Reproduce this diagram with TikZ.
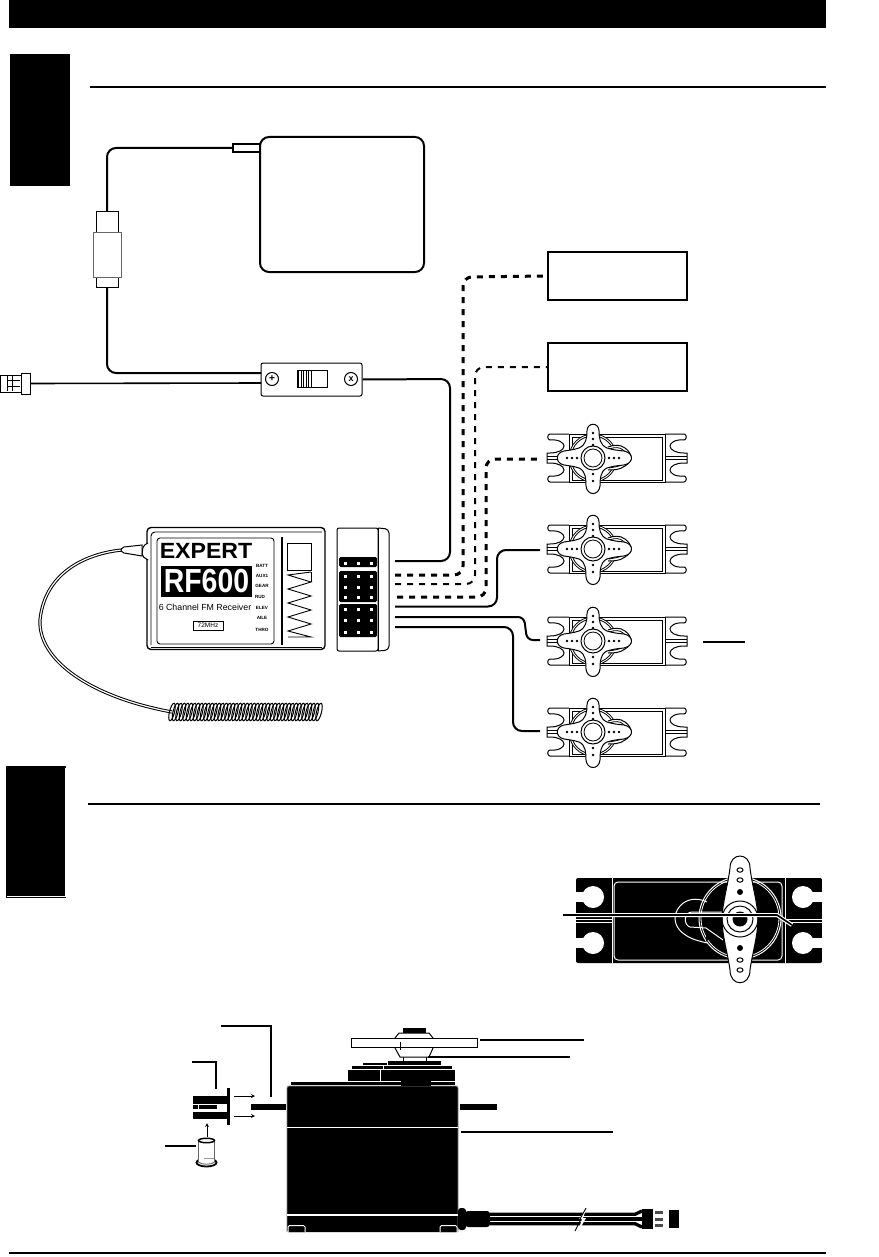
\documentclass[tikz,border=0pt]{standalone}
\usepackage{tikz}
\usepackage{fontspec}
\setsansfont{Liberation Sans}
\usetikzlibrary{arrows}
\tikzstyle{blackbar} = [rectangle, minimum width=1, minimum height=1, inner sep=0, fill=black]
\tikzstyle{rule} = [line width=2]
\tikzstyle{outlinebox} = [rectangle, inner sep=0, draw=black, line width=1.4, fill=white]
\tikzstyle{batterybox} = [rectangle, rounded corners=9, inner sep=0, draw=black, line width=2, fill=white]
\tikzstyle{wire} = [line width=2, rounded corners=9]
\tikzstyle{wiredash} = [line width=3, rounded corners=9, dash pattern=on 6pt off 6pt]
\tikzstyle{wirethin} = [line width=2, rounded corners=9, dash pattern=on 6pt off 6pt]
\tikzstyle{leader} = [line width=1.5]
\tikzstyle{arrow} = [thick,->,>=stealth]
\tikzstyle{recvlabel} = [inner sep=0, font=\sffamily\bfseries\fontsize{4.6}{5}\selectfont]
\tikzset{servosmall/.pic={
	\tikzset{x=1pt,y=-1pt}
	% ears
	\foreach \s/\o in {1/0,-1/48} {
		\begin{scope}[shift={(\o,0)},xscale=\s]
			\draw [line width=1, fill=white] (-24,-24) -- (-43,-24) .. controls (-46,-24) and (-46,-18) .. (-43,-18) .. controls (-34,-19) and (-29,-15) .. (-29,-12) .. controls (-29,-8) and (-35,-5) .. (-43,-5) -- (-46,-5) -- (-46,5) -- (-43,5) .. controls (-35,5) and (-29,8) .. (-29,12) .. controls (-29,15) and (-34,19) .. (-43,18) .. controls (-46,18) and (-46,24) .. (-43,24) -- (-24,24);
			\draw [line width=0.8] (-46,-1.5) -- (-24,-1.5) (-46,1.5) -- (-24,1.5);
		\end{scope}
	}
	% body
	\draw [line width=1, fill=white] (-24,-24) rectangle (72,24);
	\draw [line width=1] (-21,-21) rectangle (69,22);
	% gear and bump
	\draw [line width=0.8, fill=white] (0,0) circle (24);
	\draw [line width=0.8] (0,0) circle (22);
	\draw [line width=1, fill=white] (15,-11) .. controls (20,-13) and (27,-14) .. (32,-10) .. controls (40,-4) and (40,3) .. (32,8) .. controls (27,12) and (20,12) .. (15,12);
	\draw [line width=0.8] (16,-9) .. controls (22,-11) and (27,-11) .. (30,-8) .. controls (37,-3) and (36,3) .. (30,6) .. controls (26,9) and (20,9) .. (16,10);
	% horn
	\draw [line width=1, fill=white] (-6,-27) .. controls (-6,-36) and (6,-36) .. (6,-27) .. controls (6,-20) and (7,-13) .. (14,-10) .. controls (20,-8) and (26,-7.5) .. (31,-7) .. controls (41,-5) and (41,5) .. (31,7) .. controls (26,7.5) and (20,8) .. (14,10) .. controls (7,13) and (7,22) .. (7,28) .. controls (6,38) and (-6,38) .. (-7,28) .. controls (-7,22) and (-7,13) .. (-14,10) .. controls (-20,8) and (-26,7.5) .. (-29,7) .. controls (-38,5) and (-38,-5) .. (-29,-7) .. controls (-26,-7.5) and (-20,-8) .. (-14,-10) .. controls (-7,-13) and (-6,-20) .. (-6,-27) -- cycle;
	\draw [line width=1, fill=white] (0,0) circle (12);
	\draw [line width=0.8] (0,0) circle (9);
	\foreach \a/\b in {0/-25,0/-19,0/-13,0/16,0/23,-26/0,-21/0,-16/0,16/0,21/0,26/0}
		\fill [black] (\a,\b) circle (1.4);
}}
\begin{document}
\begin{tikzpicture}[x=1pt,y=-1pt]
	\useasboundingbox (0,0) rectangle (878,1257);
	\fill [white] (0,0) rectangle (878,1257);

	% page furniture
	\node (header) [blackbar, minimum width=817, minimum height=28] at (417.5,14) {};
	\node (tabA) [blackbar, minimum width=60, minimum height=132] at (40,120) {};
	\coordinate (ruleAl) at (90,87);
	\coordinate (ruleAr) at (826,87);
	\draw [rule] (ruleAl) -- (ruleAr);
	\node (tabB) [blackbar, minimum width=60.5, minimum height=132] at (36.2,832) {};
	\draw [white, line width=1] (65,768) -- (65,896.5) -- (7,896.5);
	\coordinate (ruleBl) at (88,804);
	\coordinate (ruleBr) at (820,804);
	\draw [rule] (ruleBl) -- (ruleBr);
	\coordinate (ruleCl) at (9,1253);
	\coordinate (ruleCr) at (826,1253);
	\draw [rule] (ruleCl) -- (ruleCr);

	% battery, charge lead and switch
	\node (battery) [batterybox, minimum width=164, minimum height=135] at (342,204.5) {};
	\node (batplug) [outlinebox, minimum width=27, minimum height=8] at (246.5,148) {};
	\node (lead) [outlinebox, line width=1, minimum width=22, minimum height=75] at (107,249.5) {};
	\node (sleeve) [rectangle, inner sep=0, draw=black!60, line width=1, fill=white, minimum width=28, minimum height=44] at (107,255) {};
	\node (switch) [rectangle, rounded corners=2, inner sep=0, draw=black, line width=1, fill=white, minimum width=101, minimum height=33] at (311.5,379.5) {};
	\node (slider) [outlinebox, line width=1, minimum width=30, minimum height=17] at (312,378.5) {};
	\foreach \x in {298.5,301,303.5,306,308.5,311}
		\draw [line width=0.9] (\x,370) -- (\x,387);
	\node (screwA) [circle, inner sep=0, minimum size=13, draw=black, line width=1] at (272,379) {\sffamily\bfseries\fontsize{10}{10}\selectfont +};
	\node (screwB) [circle, inner sep=0, minimum size=13, draw=black, line width=1] at (351,379) {\sffamily\bfseries\fontsize{9}{9}\selectfont x};
	\node (chgcollar) [outlinebox, line width=1, minimum width=9, minimum height=21] at (25.5,383.5) {};
	\node (chgplug) [outlinebox, line width=1, minimum width=21, minimum height=17] at (10.5,383.5) {};
	\draw [line width=0.9] (7,376) -- (7,391) (7,380) -- (20,380) (7,386) -- (20,386) (12,376) -- (12,391);

	\coordinate (leadbend) at (107,148);
	\coordinate (switchbend) at (107,373);
	\coordinate (switchin) at (261,373);
	\coordinate (chgin) at (261,383);
	\draw [wire] (batplug.west) -- (leadbend) -- (lead.north);
	\draw [wire] (lead.south) -- (switchbend) -- (switchin);
	\draw [line width=1.6] (chgcollar.east) -- (chgin);

	% channel boxes
	\node (boxA) [outlinebox, minimum width=139, minimum height=48] at (617.5,276) {};
	\node (boxB) [outlinebox, minimum width=139, minimum height=48, below of=boxA, node distance=91pt] {};

	% servos
	\pic at (593,458) {servosmall};
	\pic at (593,549) {servosmall};
	\pic at (593,641) {servosmall};
	\pic at (593,732) {servosmall};
	\coordinate (servoA) at (541,459);
	\coordinate (servoB) at (540,550);
	\coordinate (servoC) at (540,640);
	\coordinate (servoD) at (540,731);
	\coordinate (servoCl) at (703,642);
	\coordinate (servoCr) at (745,642);
	\draw [rule] (servoCl) -- (servoCr);

	% receiver
	\node (recv) [rectangle, rounded corners=4, inner sep=0, draw=black, line width=1.4, fill=white, minimum width=178, minimum height=122] at (236,588.5) {};
	\node (panel) [rectangle, rounded corners=3, inner sep=0, draw=black, line width=0.9, minimum width=117, minimum height=106] at (215.5,591) {};
	\draw [line width=0.9, rounded corners=4] (151,645) -- (151,532) -- (322,532);
	\draw [line width=0.9, rounded corners=4] (151,647) -- (322,647);
	\node (expert) [inner sep=0, font=\sffamily\bfseries\fontsize{22}{22}\selectfont] at (206,551) {\scalebox{1.05}[1]{EXPERT}};
	\node (rfname) [blackbar, minimum width=91, minimum height=31, text=white, font=\sffamily\bfseries\fontsize{29}{29}\selectfont] at (206.5,581.5) {\scalebox{0.98}[1.15]{RF600}};
	\node (recvtxt) [inner sep=0, font=\sffamily\fontsize{8.8}{9}\selectfont] at (205,607) {6 Channel FM Receiver};
	\node (mhz) [rectangle, inner sep=0, draw=black, line width=0.9, minimum width=30, minimum height=9, font=\sffamily\fontsize{6.5}{7}\selectfont] at (208,625.5) {72MHz};
	\node (batt) [recvlabel] at (262,566) {BATT};
	\node (auxone) [recvlabel] at (262,575.5) {AUX1};
	\node (gear) [recvlabel] at (262,586) {GEAR};
	\node (rudd) [recvlabel] at (260,597) {RUD};
	\node (elev) [recvlabel] at (262,608) {ELEV};
	\node (aile) [recvlabel] at (262,618) {AILE};
	\node (thro) [recvlabel] at (262,630) {THRO};
	\node (vbar) [blackbar, minimum width=2.5, minimum height=108] at (282,591) {};
	\node (window) [outlinebox, line width=0.9, minimum width=24, minimum height=27] at (299,556.5) {};
	\coordinate (zigstart) at (311,572);
	\draw [line width=0.9] (zigstart) -- (288,575) -- (311,582) -- (288,589) -- (311,596) -- (288,603) -- (311,610) -- (288,617) -- (311,624) -- (288,631) -- (311,637) -- (288,637);
	\draw [line width=0.9] (311,572) -- (311,582);

	% servo lead block
	\node (block) [rectangle, rounded corners=2, inner sep=0, draw=black, line width=1, fill=white, minimum width=41, minimum height=123] at (357.5,589.5) {};
	\draw [line width=1, rounded corners=4] (378,528) -- (389,529) -- (389,650) -- (378,651);
	\draw [line width=1] (378,528) -- (378,651);
	\fill [black, rounded corners=1.5] (339,557) rectangle (377,567);
	\fill [black, rounded corners=1.5] (339,571) rectangle (377,602);
	\fill [black, rounded corners=1.5] (339,604) rectangle (377,637);
	\foreach \y in {563,576,587,597,609,620,632}
		\foreach \x in {345,358,371}
			\fill [white] (\x-1.5,\y-1.5) rectangle (\x+1.5,\y+1.5);

	% channel leads
	\coordinate (chA) at (395,561);
	\coordinate (chB) at (395,575);
	\coordinate (chC) at (395,584);
	\coordinate (chD) at (397,597);
	\coordinate (chE) at (395,606.5);
	\coordinate (chF) at (395,617);
	\coordinate (chG) at (395,627);
	\coordinate (switchout) at (450,379);
	\coordinate (cornerA) at (450,561);
	\draw [wire] (switch.east) -- (switchout) -- (cornerA) -- (chA);
	\coordinate (cornerB) at (463,575);
	\coordinate (cornerBu) at (463,277);
	\draw [wiredash] (chB) -- (cornerB) -- (cornerBu) -- (boxA.west);
	\coordinate (cornerC) at (475,584);
	\coordinate (cornerCu) at (475,367);
	\draw [wirethin] (chC) -- (cornerC) -- (cornerCu) -- (boxB.west);
	\coordinate (cornerD) at (486,597);
	\coordinate (cornerDu) at (486,459);
	\draw [wiredash] (chD) -- (cornerD) -- (cornerDu) -- (servoA);
	\coordinate (cornerE) at (497,606.5);
	\coordinate (cornerEu) at (497,550);
	\draw [wire] (chE) -- (cornerE) -- (cornerEu) -- (servoB);
	\coordinate (jogA) at (524,617);
	\coordinate (jogB) at (527,640);
	\draw [wire, rounded corners=6] (chF) -- (jogA) -- (jogB) -- (servoC);
	\coordinate (cornerG) at (513,627);
	\coordinate (cornerGu) at (513,731);
	\draw [wire] (chG) -- (cornerG) -- (cornerGu) -- (servoD);

	% antenna
	\coordinate (antA) at (122,550);
	\coordinate (antB) at (172,712);
	\draw [line width=3.2] (antA) .. controls (90,553) and (45,570) .. (40,620) .. controls (38,660) and (90,697) .. (antB);
	\draw [white, line width=1.2] (antA) .. controls (90,553) and (45,570) .. (40,620) .. controls (38,660) and (90,697) .. (antB);
	\draw [line width=1, fill=white] (142,545) -- (124,547) .. controls (120,549) and (120,551) .. (124,553) -- (142,556) -- cycle;
	\draw [line width=1, fill=white, rounded corners=2] (148,543) -- (143,546) -- (142,556) -- (148,560);
	\foreach \i in {0,...,42}
		\draw [line width=1] (172+3.5*\i,712) ellipse [x radius=2.5, y radius=9, rotate=-14];

	% big servo, top view
	\fill [black, rounded corners=2] (576,878) rectangle (822,963);
	\draw [white, line width=1] (612,878) -- (612,963) (785,878) -- (785,963);
	\foreach \x/\s in {593/-1,803/1} {
		\fill [white] (\x,897) circle (11);
		\fill [white] (\x,943) circle (11);
		\fill [white] (\x,892) rectangle (\x+\s*20,902);
		\fill [white] (\x,938) rectangle (\x+\s*20,948);
	}
	\fill [white] (570,870) rectangle (576,970);
	\fill [white] (822,870) rectangle (830,970);
	\draw [white, line width=1] (576,919) -- (612,919) (576,922) -- (612,922) (785,919) -- (822,919) (785,922) -- (822,922);
	\draw [white, line width=1, rounded corners=4] (614,882) rectangle (782,960);
	\draw [white, line width=1] (740,918) circle (41);
	\draw [white, line width=0.8] (740,918) circle (39);
	\fill [black] (706,901) -- (720,915) -- (720,925) -- (706,942) -- cycle;
	\draw [white, line width=1] (707,902) .. controls (697,897) and (686,899) .. (680,906) .. controls (672,915) and (674,927) .. (684,934) .. controls (692,940) and (700,941) .. (707,943);
	\draw [white, line width=1] (722,912) -- (692,912) .. controls (684,912) and (683,925) .. (690,927) -- (706,928) -- (723,940);
	\draw [line width=1, fill=white] (730,868) .. controls (730,852) and (750,852) .. (750,868) .. controls (752,885) and (758,905) .. (758,919) .. controls (758,935) and (752,955) .. (750,970) .. controls (750,987) and (730,987) .. (730,970) .. controls (728,955) and (722,935) .. (722,919) .. controls (722,905) and (728,885) .. (730,868) -- cycle;
	\draw [line width=1] (740,919) circle (18);
	\draw [line width=1] (740,919) circle (13);
	\fill [black] (740,919) circle (7.5);
	\foreach \y in {870,880,960,970}
		\draw [line width=1] (740,\y) ellipse [x radius=3, y radius=2.2];
	\fill [black] (740,892) circle (3);
	\fill [black] (740,948) circle (3);
	\coordinate (arrowL) at (563,915);
	\coordinate (arrowM) at (777,915);
	\coordinate (arrowR) at (792,925);
	\draw [white, line width=4] (576,915) -- (arrowM) -- (arrowR);
	\draw [line width=1.6] (arrowL) -- (arrowM) -- (arrowR);

	% big servo, side view
	\fill [black, rounded corners=2] (287,1086) -- (458,1086) -- (458,1232) -- (287,1232) -- cycle;
	\draw [black!50, line width=0.8, rounded corners=2] (287,1232) -- (287,1086) -- (458,1086) -- (458,1232);
	\draw [white, line width=1] (287,1127) -- (458,1127);
	\draw [white, line width=2] (287,1215) -- (458,1215);
	\draw [white, line width=1, fill=black, rounded corners=1.5] (288,1232) -- (288,1225.5) -- (305,1225.5) -- (305,1232);
	\draw [white, line width=1, fill=black, rounded corners=1.5] (440,1232) -- (440,1225.5) -- (457,1225.5) -- (457,1232);
	\fill [black] (251,1104) rectangle (286,1110);
	\fill [black] (460,1104) rectangle (497,1110);
	% stacked layers on top
	\fill [black] (291,1081.5) rectangle (401,1085);
	\fill [black] (401,1081) rectangle (431,1086);
	\fill [black] (431,1081.5) rectangle (455,1085);
	\fill [black] (348,1070) rectangle (379.5,1081);
	\fill [black] (381,1070) rectangle (455,1081);
	\fill [black] (352,1066) rectangle (383,1069);
	\fill [black] (384,1066) rectangle (452,1069);
	\fill [black] (388,1061) rectangle (441,1065);
	\fill [black] (363,1063) rectangle (387,1065);
	\draw [line width=1] (403,1057) -- (403,1061) (426,1057) -- (426,1061);
	% output horn
	\fill [black] (403,1028) rectangle (426,1033);
	\draw [line width=1, fill=white] (399,1033) -- (395,1038) -- (395,1048) -- (400,1057) -- (429,1057) -- (433,1048) -- (433,1038) -- (429,1033) -- cycle;
	\node (hornbar) [outlinebox, line width=1, minimum width=126, minimum height=9] at (414,1042.5) {};
	\draw [line width=1] (400,1042) -- (400,1050);
	\coordinate (labA) at (480,1040);
	\coordinate (labAe) at (584,1040);
	\draw [leader] (labA) -- (labAe);
	\coordinate (labB) at (428,1057);
	\coordinate (labBe) at (570,1057);
	\draw [leader] (labB) -- (labBe);
	\coordinate (labC) at (461,1132);
	\coordinate (labCe) at (613,1132);
	\draw [leader] (labC) -- (labCe);
	\coordinate (labD) at (221,1026);
	\coordinate (labDe) at (271,1097);
	\draw [leader] (labD) -| (labDe);
	\coordinate (labE) at (192,1062);
	\coordinate (labEe) at (216,1089);
	\draw [leader] (labE) -| (labEe);
	\coordinate (labF) at (165,1146);
	\coordinate (labFe) at (196,1146);
	\draw [leader] (labF) -- (labFe);
	% grommet and eyelet
	\fill [black] (227,1088) rectangle (230,1125);
	\fill [black] (193,1096) rectangle (228,1104);
	\fill [black] (193,1112) rectangle (228,1119);
	\fill [black] (193,1105) rectangle (198,1109);
	\fill [black] (199,1105) rectangle (217,1109);
	\coordinate (grA) at (234,1096);
	\coordinate (grAe) at (255,1096);
	\coordinate (grB) at (234,1116);
	\coordinate (grBe) at (255,1116);
	\coordinate (eyeA) at (207,1137);
	\coordinate (eyeAe) at (207,1123);
	\draw [arrow] (grA) -- (grAe);
	\draw [arrow] (grB) -- (grBe);
	\draw [arrow] (eyeA) -- (eyeAe);
	\draw [line width=1.8, fill=white] (206.5,1162.5) ellipse [x radius=10, y radius=4];
	\draw [black!60, line width=0.9, fill=white] (198.5,1141) -- (198.5,1162) .. controls (201,1165) and (212,1165) .. (214.5,1162) -- (214.5,1141);
	\draw [line width=1.5, fill=white] (206.5,1140.5) ellipse [x radius=8, y radius=2.2];
	\draw [black!40, line width=0.8] (204,1158) -- (214,1158);
	% cable
	\fill [black, rounded corners=3] (458,1208) rectangle (466,1230);
	\fill [black, rounded corners=3] (465,1211) rectangle (490,1227);
	\coordinate (cabA) at (490,1214.3);
	\coordinate (cabB) at (490,1219);
	\coordinate (cabC) at (490,1223.7);
	\coordinate (cabAe) at (635,1214.3);
	\coordinate (cabBe) at (642,1219);
	\coordinate (cabCe) at (635,1223.7);
	\draw [line width=3.3] (cabA) -- (cabAe) -- (642,1211);
	\draw [line width=3.3] (cabB) -- (cabBe);
	\draw [line width=3.3] (cabC) -- (cabCe) -- (642,1227);
	\fill [white] (578,1232) -- (582,1219) -- (579,1219) -- (587,1207) -- (583,1218) -- (586,1218) -- cycle;
	\draw [line width=0.9] (575,1231) -- (581,1219) (580,1219) -- (586,1208);
	\fill [black] (642,1209) rectangle (653,1229);
	\fill [black] (669,1210) rectangle (679,1228);
	\foreach \y in {1212.5,1219,1225.5}
		\fill [black!70] (655,\y-1.5) rectangle (663,\y+1.5);
\end{tikzpicture}
\end{document}
